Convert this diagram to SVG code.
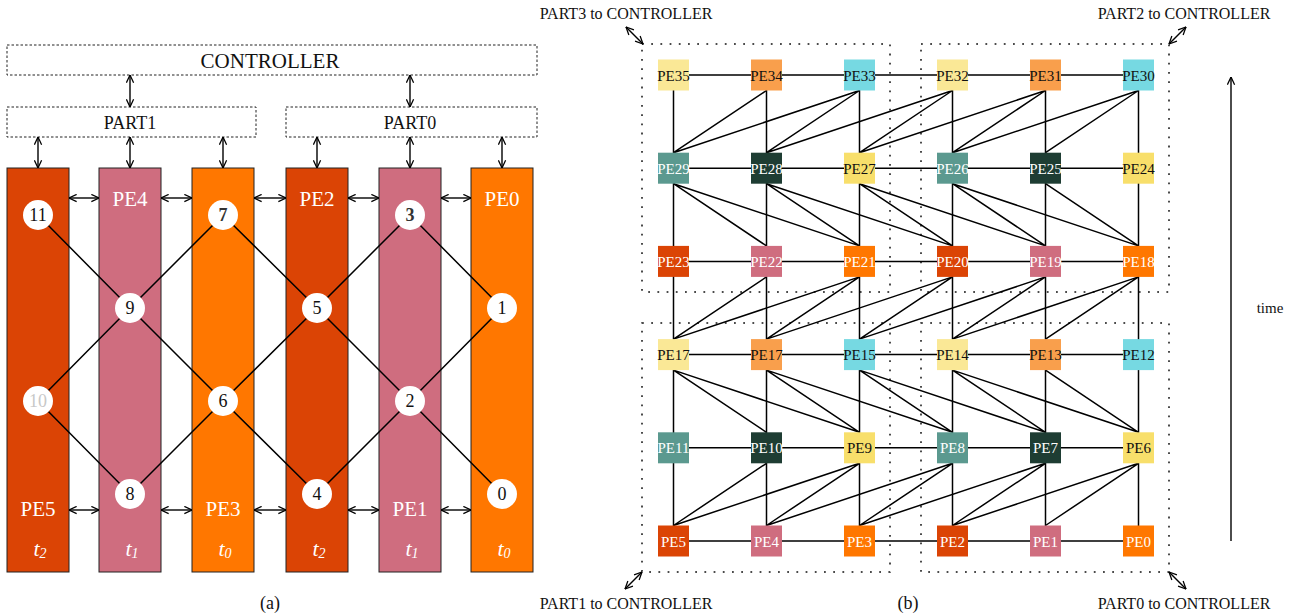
<svg xmlns="http://www.w3.org/2000/svg" width="1299" height="616" viewBox="0 0 1299 616" font-family="'Liberation Serif', 'Times New Roman', serif">
<style>
text{font-family:"Liberation Serif","Times New Roman",serif}
.lbl{font-size:21px;fill:#fff;text-anchor:middle}
.tl{font-size:22px;fill:#fff;font-style:italic;text-anchor:middle}
.num{font-size:18px;fill:#111;text-anchor:middle}
.circ{fill:#fff}
.col{stroke:#222;stroke-width:1}
.c0{fill:#DB4405}.c1{fill:#CF6D7F}.c2{fill:#FF7700}
.dbox{fill:none;stroke:#222;stroke-width:1;stroke-dasharray:2.5 2}
.dot{fill:none;stroke:#111;stroke-width:1.5;stroke-dasharray:1.8 7.4}
.ln{stroke:#000;stroke-width:1.5;fill:none}
.ar{stroke:#000;stroke-width:1.4;fill:none;marker-start:url(#ah);marker-end:url(#ah)}
.nd{font-size:15px;text-anchor:middle}
.ly{fill:#FAE896}.lo{fill:#F99F4C}.cy{fill:#76D9E2}.tg{fill:#5B998F}.dg{fill:#1E3D33}.yl{fill:#F8DF6B}
.dk{fill:#111}.wt{fill:#fff}
.cap{font-size:16px;fill:#111;text-anchor:middle}
</style>
<defs>
<marker id="ah" viewBox="0 0 10 10" refX="9.5" refY="5" markerWidth="9" markerHeight="9" markerUnits="userSpaceOnUse" orient="auto-start-reverse">
<path d="M1,1 L9.5,5 L1,9" fill="none" stroke="#000" stroke-width="1.4"/>
</marker>
</defs>

<!-- ===== (a) ===== -->
<g id="controller"><rect class="dbox" x="7" y="45" width="530" height="30"/><text x="270" y="68" font-size="21" fill="#111" text-anchor="middle">CONTROLLER</text></g>
<g id="part1"><rect class="dbox" x="7" y="107" width="249" height="30"/><text x="130" y="129" font-size="18" fill="#111" text-anchor="middle">PART1</text></g>
<g id="part0"><rect class="dbox" x="286" y="107" width="251" height="30"/><text x="410" y="129" font-size="18" fill="#111" text-anchor="middle">PART0</text></g>

<g id="col-pe5"><rect class="col c0" x="7" y="168" width="62" height="404"/><text class="lbl" x="38" y="516">PE5</text><text class="tl" x="40" y="556">t<tspan font-size="14" dy="2">2</tspan></text></g>
<g id="col-pe4"><rect class="col c1" x="99" y="168" width="62" height="404"/><text class="lbl" x="130" y="206">PE4</text><text class="tl" x="132" y="556">t<tspan font-size="14" dy="2">1</tspan></text></g>
<g id="col-pe3"><rect class="col c2" x="192" y="168" width="62" height="404"/><text class="lbl" x="223" y="516">PE3</text><text class="tl" x="225" y="556">t<tspan font-size="14" dy="2">0</tspan></text></g>
<g id="col-pe2"><rect class="col c0" x="286" y="168" width="62" height="404"/><text class="lbl" x="317" y="206">PE2</text><text class="tl" x="319" y="556">t<tspan font-size="14" dy="2">2</tspan></text></g>
<g id="col-pe1"><rect class="col c1" x="379" y="168" width="62" height="404"/><text class="lbl" x="410" y="516">PE1</text><text class="tl" x="412" y="556">t<tspan font-size="14" dy="2">1</tspan></text></g>
<g id="col-pe0"><rect class="col c2" x="471" y="168" width="62" height="404"/><text class="lbl" x="502" y="206">PE0</text><text class="tl" x="504" y="556">t<tspan font-size="14" dy="2">0</tspan></text></g>

<g id="connectors-a">
<line class="ar" x1="130" y1="75" x2="130" y2="107"/>
<line class="ar" x1="410" y1="75" x2="410" y2="107"/>
<line class="ar" x1="38" y1="137" x2="38" y2="168"/>
<line class="ar" x1="130" y1="137" x2="130" y2="168"/>
<line class="ar" x1="223" y1="137" x2="223" y2="168"/>
<line class="ar" x1="317" y1="137" x2="317" y2="168"/>
<line class="ar" x1="410" y1="137" x2="410" y2="168"/>
<line class="ar" x1="502" y1="137" x2="502" y2="168"/>
<line class="ar" x1="69" y1="198" x2="99" y2="198"/>
<line class="ar" x1="161" y1="198" x2="192" y2="198"/>
<line class="ar" x1="254" y1="198" x2="286" y2="198"/>
<line class="ar" x1="348" y1="198" x2="379" y2="198"/>
<line class="ar" x1="441" y1="198" x2="471" y2="198"/>
<line class="ar" x1="69" y1="510" x2="99" y2="510"/>
<line class="ar" x1="161" y1="510" x2="192" y2="510"/>
<line class="ar" x1="254" y1="510" x2="286" y2="510"/>
<line class="ar" x1="348" y1="510" x2="379" y2="510"/>
<line class="ar" x1="441" y1="510" x2="471" y2="510"/>
<path class="ln" d="M38,215 L130,308 L223,401 L317,494 M38,401 L130,308 L223,215 L317,308 L410,401 L502,494 M38,401 L130,494 L223,401 L317,308 L410,215 L502,308 L410,401 L317,494"/>
</g>

<g id="n11"><circle class="circ" cx="38" cy="215" r="15"/><text class="num" x="38" y="221">11</text></g>
<g id="n10"><circle class="circ" cx="38" cy="401" r="15"/><text class="num" x="38" y="407" style="fill:#c8c8c8">10</text></g>
<g id="n9"><circle class="circ" cx="130" cy="308" r="15"/><text class="num" x="130" y="314">9</text></g>
<g id="n8"><circle class="circ" cx="130" cy="494" r="15"/><text class="num" x="130" y="500">8</text></g>
<g id="n7"><circle class="circ" cx="223" cy="215" r="15"/><text class="num" x="223" y="221" font-weight="bold" style="fill:#333">7</text></g>
<g id="n6"><circle class="circ" cx="223" cy="401" r="15"/><text class="num" x="223" y="407">6</text></g>
<g id="n5"><circle class="circ" cx="317" cy="308" r="15"/><text class="num" x="317" y="314">5</text></g>
<g id="n4"><circle class="circ" cx="317" cy="494" r="15"/><text class="num" x="317" y="500">4</text></g>
<g id="n3"><circle class="circ" cx="410" cy="215" r="15"/><text class="num" x="410" y="221" font-weight="bold" style="fill:#333">3</text></g>
<g id="n2"><circle class="circ" cx="410" cy="401" r="15"/><text class="num" x="410" y="407">2</text></g>
<g id="n1"><circle class="circ" cx="502" cy="308" r="15"/><text class="num" x="502" y="314">1</text></g>
<g id="n0"><circle class="circ" cx="502" cy="494" r="15"/><text class="num" x="502" y="500">0</text></g>

<text x="270" y="609" font-size="18" fill="#111" text-anchor="middle">(a)</text>

<!-- ===== (b) ===== -->
<g id="partition-boxes">
<rect class="dot" x="642" y="44" width="248" height="248"/>
<rect class="dot" x="921" y="44" width="248" height="248"/>
<rect class="dot" x="642" y="323" width="248" height="249"/>
<rect class="dot" x="921" y="323" width="248" height="249"/>
</g>

<g id="connectors-b">
<path class="ln" d="M673.5,75 H1138.5 M673.5,168.2 H1138.5 M673.5,261.4 H1138.5 M673.5,354.6 H1138.5 M673.5,447.8 H1138.5 M673.5,541 H1138.5"/>
<path class="ln" d="M673.5,75 V541 M766.5,75 V541 M859.5,75 V541 M952.5,75 V541 M1045.5,75 V541 M1138.5,75 V541"/>
<path class="ln" d="M766.5,90.5 L673.5,152.7 M859.5,90.5 L673.5,152.7 M859.5,90.5 L766.5,152.7 M952.5,90.5 L766.5,152.7 M952.5,90.5 L859.5,152.7 M1045.5,90.5 L859.5,152.7 M1045.5,90.5 L952.5,152.7 M1138.5,90.5 L952.5,152.7 M1138.5,90.5 L1045.5,152.7"/>
<path class="ln" d="M673.5,183.7 L766.5,245.9 M673.5,183.7 L859.5,245.9 M766.5,183.7 L859.5,245.9 M766.5,183.7 L952.5,245.9 M859.5,183.7 L952.5,245.9 M859.5,183.7 L1045.5,245.9 M952.5,183.7 L1045.5,245.9 M952.5,183.7 L1138.5,245.9 M1045.5,183.7 L1138.5,245.9"/>
<path class="ln" d="M766.5,276.9 L673.5,339.1 M859.5,276.9 L673.5,339.1 M859.5,276.9 L766.5,339.1 M952.5,276.9 L766.5,339.1 M952.5,276.9 L859.5,339.1 M1045.5,276.9 L859.5,339.1 M1045.5,276.9 L952.5,339.1 M1138.5,276.9 L952.5,339.1 M1138.5,276.9 L1045.5,339.1"/>
<path class="ln" d="M673.5,370.1 L766.5,432.3 M673.5,370.1 L859.5,432.3 M766.5,370.1 L859.5,432.3 M766.5,370.1 L952.5,432.3 M859.5,370.1 L952.5,432.3 M859.5,370.1 L1045.5,432.3 M952.5,370.1 L1045.5,432.3 M952.5,370.1 L1138.5,432.3 M1045.5,370.1 L1138.5,432.3"/>
<path class="ln" d="M766.5,463.3 L673.5,525.5 M859.5,463.3 L673.5,525.5 M859.5,463.3 L766.5,525.5 M952.5,463.3 L766.5,525.5 M952.5,463.3 L859.5,525.5 M1045.5,463.3 L859.5,525.5 M1045.5,463.3 L952.5,525.5 M1138.5,463.3 L952.5,525.5 M1138.5,463.3 L1045.5,525.5"/>
<line class="ar" x1="643" y1="44" x2="626" y2="27"/>
<line class="ar" x1="1169" y1="44" x2="1186" y2="27"/>
<line class="ar" x1="642" y1="572" x2="625" y2="589"/>
<line class="ar" x1="1169" y1="572" x2="1186" y2="589"/>
<line x1="1231" y1="541" x2="1231" y2="77" stroke="#000" stroke-width="1.4" marker-end="url(#ah)"/>
</g>

<g id="pe35"><rect class="ly" x="658" y="59.5" width="31" height="31"/><text class="nd dk" x="673.5" y="80.5">PE35</text></g>
<g id="pe34"><rect class="lo" x="751" y="59.5" width="31" height="31"/><text class="nd dk" x="766.5" y="80.5">PE34</text></g>
<g id="pe33"><rect class="cy" x="844" y="59.5" width="31" height="31"/><text class="nd dk" x="859.5" y="80.5">PE33</text></g>
<g id="pe32"><rect class="ly" x="937" y="59.5" width="31" height="31"/><text class="nd dk" x="952.5" y="80.5">PE32</text></g>
<g id="pe31"><rect class="lo" x="1030" y="59.5" width="31" height="31"/><text class="nd dk" x="1045.5" y="80.5">PE31</text></g>
<g id="pe30"><rect class="cy" x="1123" y="59.5" width="31" height="31"/><text class="nd dk" x="1138.5" y="80.5">PE30</text></g>

<g id="pe29"><rect class="tg" x="658" y="152.7" width="31" height="31"/><text class="nd wt" x="673.5" y="173.7">PE29</text></g>
<g id="pe28"><rect class="dg" x="751" y="152.7" width="31" height="31"/><text class="nd wt" x="766.5" y="173.7">PE28</text></g>
<g id="pe27"><rect class="yl" x="844" y="152.7" width="31" height="31"/><text class="nd dk" x="859.5" y="173.7">PE27</text></g>
<g id="pe26"><rect class="tg" x="937" y="152.7" width="31" height="31"/><text class="nd wt" x="952.5" y="173.7">PE26</text></g>
<g id="pe25"><rect class="dg" x="1030" y="152.7" width="31" height="31"/><text class="nd wt" x="1045.5" y="173.7">PE25</text></g>
<g id="pe24"><rect class="yl" x="1123" y="152.7" width="31" height="31"/><text class="nd dk" x="1138.5" y="173.7">PE24</text></g>

<g id="pe23"><rect class="c0" x="658" y="245.9" width="31" height="31"/><text class="nd wt" x="673.5" y="266.9">PE23</text></g>
<g id="pe22"><rect class="c1" x="751" y="245.9" width="31" height="31"/><text class="nd wt" x="766.5" y="266.9">PE22</text></g>
<g id="pe21"><rect class="c2" x="844" y="245.9" width="31" height="31"/><text class="nd wt" x="859.5" y="266.9">PE21</text></g>
<g id="pe20"><rect class="c0" x="937" y="245.9" width="31" height="31"/><text class="nd wt" x="952.5" y="266.9">PE20</text></g>
<g id="pe19"><rect class="c1" x="1030" y="245.9" width="31" height="31"/><text class="nd wt" x="1045.5" y="266.9">PE19</text></g>
<g id="pe18"><rect class="c2" x="1123" y="245.9" width="31" height="31"/><text class="nd wt" x="1138.5" y="266.9">PE18</text></g>

<g id="pe17a"><rect class="ly" x="658" y="339.1" width="31" height="31"/><text class="nd dk" x="673.5" y="360.1">PE17</text></g>
<g id="pe17b"><rect class="lo" x="751" y="339.1" width="31" height="31"/><text class="nd dk" x="766.5" y="360.1">PE17</text></g>
<g id="pe15"><rect class="cy" x="844" y="339.1" width="31" height="31"/><text class="nd dk" x="859.5" y="360.1">PE15</text></g>
<g id="pe14"><rect class="ly" x="937" y="339.1" width="31" height="31"/><text class="nd dk" x="952.5" y="360.1">PE14</text></g>
<g id="pe13"><rect class="lo" x="1030" y="339.1" width="31" height="31"/><text class="nd dk" x="1045.5" y="360.1">PE13</text></g>
<g id="pe12"><rect class="cy" x="1123" y="339.1" width="31" height="31"/><text class="nd dk" x="1138.5" y="360.1">PE12</text></g>

<g id="pe11"><rect class="tg" x="658" y="432.3" width="31" height="31"/><text class="nd wt" x="673.5" y="453.3">PE11</text></g>
<g id="pe10"><rect class="dg" x="751" y="432.3" width="31" height="31"/><text class="nd wt" x="766.5" y="453.3">PE10</text></g>
<g id="pe9"><rect class="yl" x="844" y="432.3" width="31" height="31"/><text class="nd dk" x="859.5" y="453.3">PE9</text></g>
<g id="pe8"><rect class="tg" x="937" y="432.3" width="31" height="31"/><text class="nd wt" x="952.5" y="453.3">PE8</text></g>
<g id="pe7"><rect class="dg" x="1030" y="432.3" width="31" height="31"/><text class="nd wt" x="1045.5" y="453.3">PE7</text></g>
<g id="pe6"><rect class="yl" x="1123" y="432.3" width="31" height="31"/><text class="nd dk" x="1138.5" y="453.3">PE6</text></g>

<g id="pe5"><rect class="c0" x="658" y="525.5" width="31" height="31"/><text class="nd wt" x="673.5" y="546.5">PE5</text></g>
<g id="pe4"><rect class="c1" x="751" y="525.5" width="31" height="31"/><text class="nd wt" x="766.5" y="546.5">PE4</text></g>
<g id="pe3"><rect class="c2" x="844" y="525.5" width="31" height="31"/><text class="nd wt" x="859.5" y="546.5">PE3</text></g>
<g id="pe2"><rect class="c0" x="937" y="525.5" width="31" height="31"/><text class="nd wt" x="952.5" y="546.5">PE2</text></g>
<g id="pe1"><rect class="c1" x="1030" y="525.5" width="31" height="31"/><text class="nd wt" x="1045.5" y="546.5">PE1</text></g>
<g id="pe0"><rect class="c2" x="1123" y="525.5" width="31" height="31"/><text class="nd wt" x="1138.5" y="546.5">PE0</text></g>

<text class="cap" x="626" y="19">PART3 to CONTROLLER</text>
<text class="cap" x="1184" y="19">PART2 to CONTROLLER</text>
<text class="cap" x="626" y="609">PART1 to CONTROLLER</text>
<text class="cap" x="1184" y="609">PART0 to CONTROLLER</text>
<text x="1270" y="313" font-size="15" fill="#111" text-anchor="middle">time</text>
<text x="908" y="609" font-size="18" fill="#111" text-anchor="middle">(b)</text>
</svg>
